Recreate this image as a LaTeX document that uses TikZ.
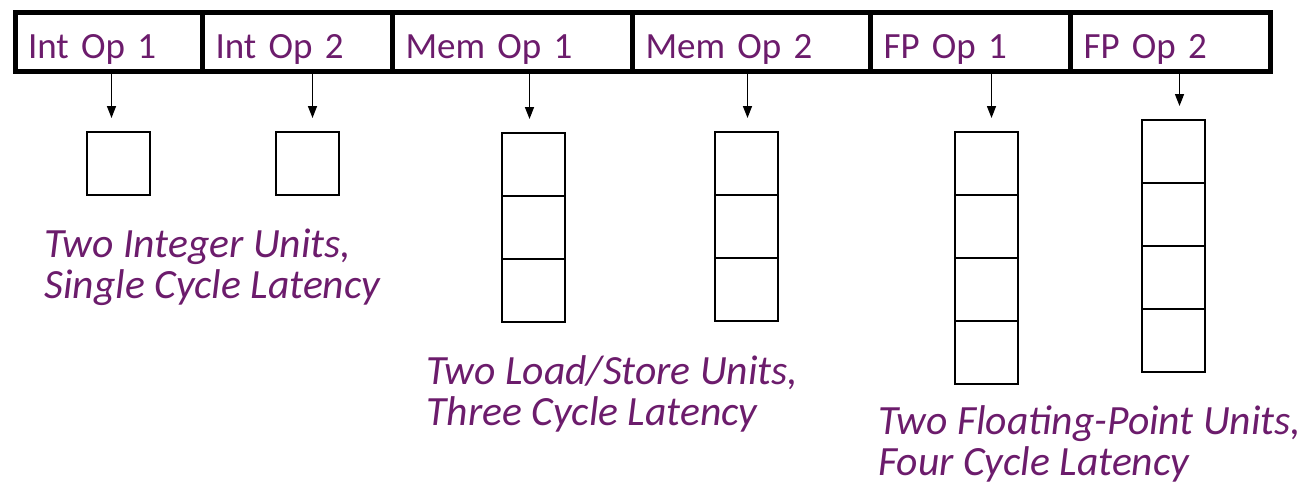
\documentclass[tikz,border=0pt]{standalone}
\usepackage{fontspec}
\setmainfont{Carlito}
\usetikzlibrary{positioning,arrows.meta}
\definecolor{oppurple}{RGB}{108,28,108}
\tikzset{
  opcell/.style={draw,line width=2.5pt,minimum height=29.5pt,inner xsep=6.5pt,text height=16pt,text depth=0pt,anchor=west,align=left,text=oppurple,font=\fontsize{18.5}{22}\selectfont},
  stage/.style={draw,line width=1pt,minimum width=31.5pt,minimum height=31.5pt,inner sep=0pt,outer sep=0pt},
  unitnote/.style={anchor=base west,align=left,inner sep=0pt,text=oppurple,font=\fontsize{20.8}{20.5}\selectfont\itshape},
  feed/.style={-{Triangle[length=6pt,width=4.5pt]},line width=0.75pt}
}

\begin{document}
\begin{tikzpicture}[x=0.5pt,y=-0.5pt]
	\useasboundingbox (0,0) rectangle (1309,487);
	% issue slots
	\node[opcell,text width=80.75pt] (intop1) at (12.5,42) {Int Op 1};
	\node[opcell,text width=82pt] (intop2) at (200,42) {Int Op 2};
	\node[opcell,text width=107pt] (memop1) at (390,42) {Mem Op 1};
	\node[opcell,text width=106pt] (memop2) at (630,42) {Mem Op 2};
	\node[opcell,text width=87pt] (fpop1) at (868,42) {FP Op 1};
	\node[opcell,text width=86.75pt] (fpop2) at (1068,42) {FP Op 2};
	% pipelined units
	\foreach \u/\x/\y/\k in {ialu1/87/132/1, ialu2/276/132/1, lsu1/502/133/3, lsu2/715/132/3, fpu1/955/132/4, fpu2/1142/120/4}{
		\node[stage,anchor=north west] (\u-1) at (\x,\y) {};
		\ifnum\k>1
			\foreach \i in {2,...,\k}{
				\pgfmathtruncatemacro\prev{\i-1}
				\node[stage,below=0pt of \u-\prev] (\u-\i) {};
			}
		\fi
	}
	% issue arrows
	\foreach \o/\u/\dx in {intop1/ialu1/-7, intop2/ialu2/5, memop1/lsu1/-4, memop2/lsu2/1, fpop1/fpu1/5, fpop2/fpu2/6}{
		\coordinate (\u-in) at ([xshift=\dx*0.5pt,yshift=7pt]\u-1.north);
		\draw[feed] (\o.south -| \u-in) -- (\u-in);
	}
	% captions
	\node[unitnote] (intnote) at (44,298) {Two Integer Units,\\Single Cycle Latency};
	\node[unitnote] (lsnote) at (426,425) {Two Load/Store Units,\\Three Cycle Latency};
	\node[unitnote] (fpnote) at (878,475) {Two Floating-Point Units,\\Four Cycle Latency};
\end{tikzpicture}
\end{document}
